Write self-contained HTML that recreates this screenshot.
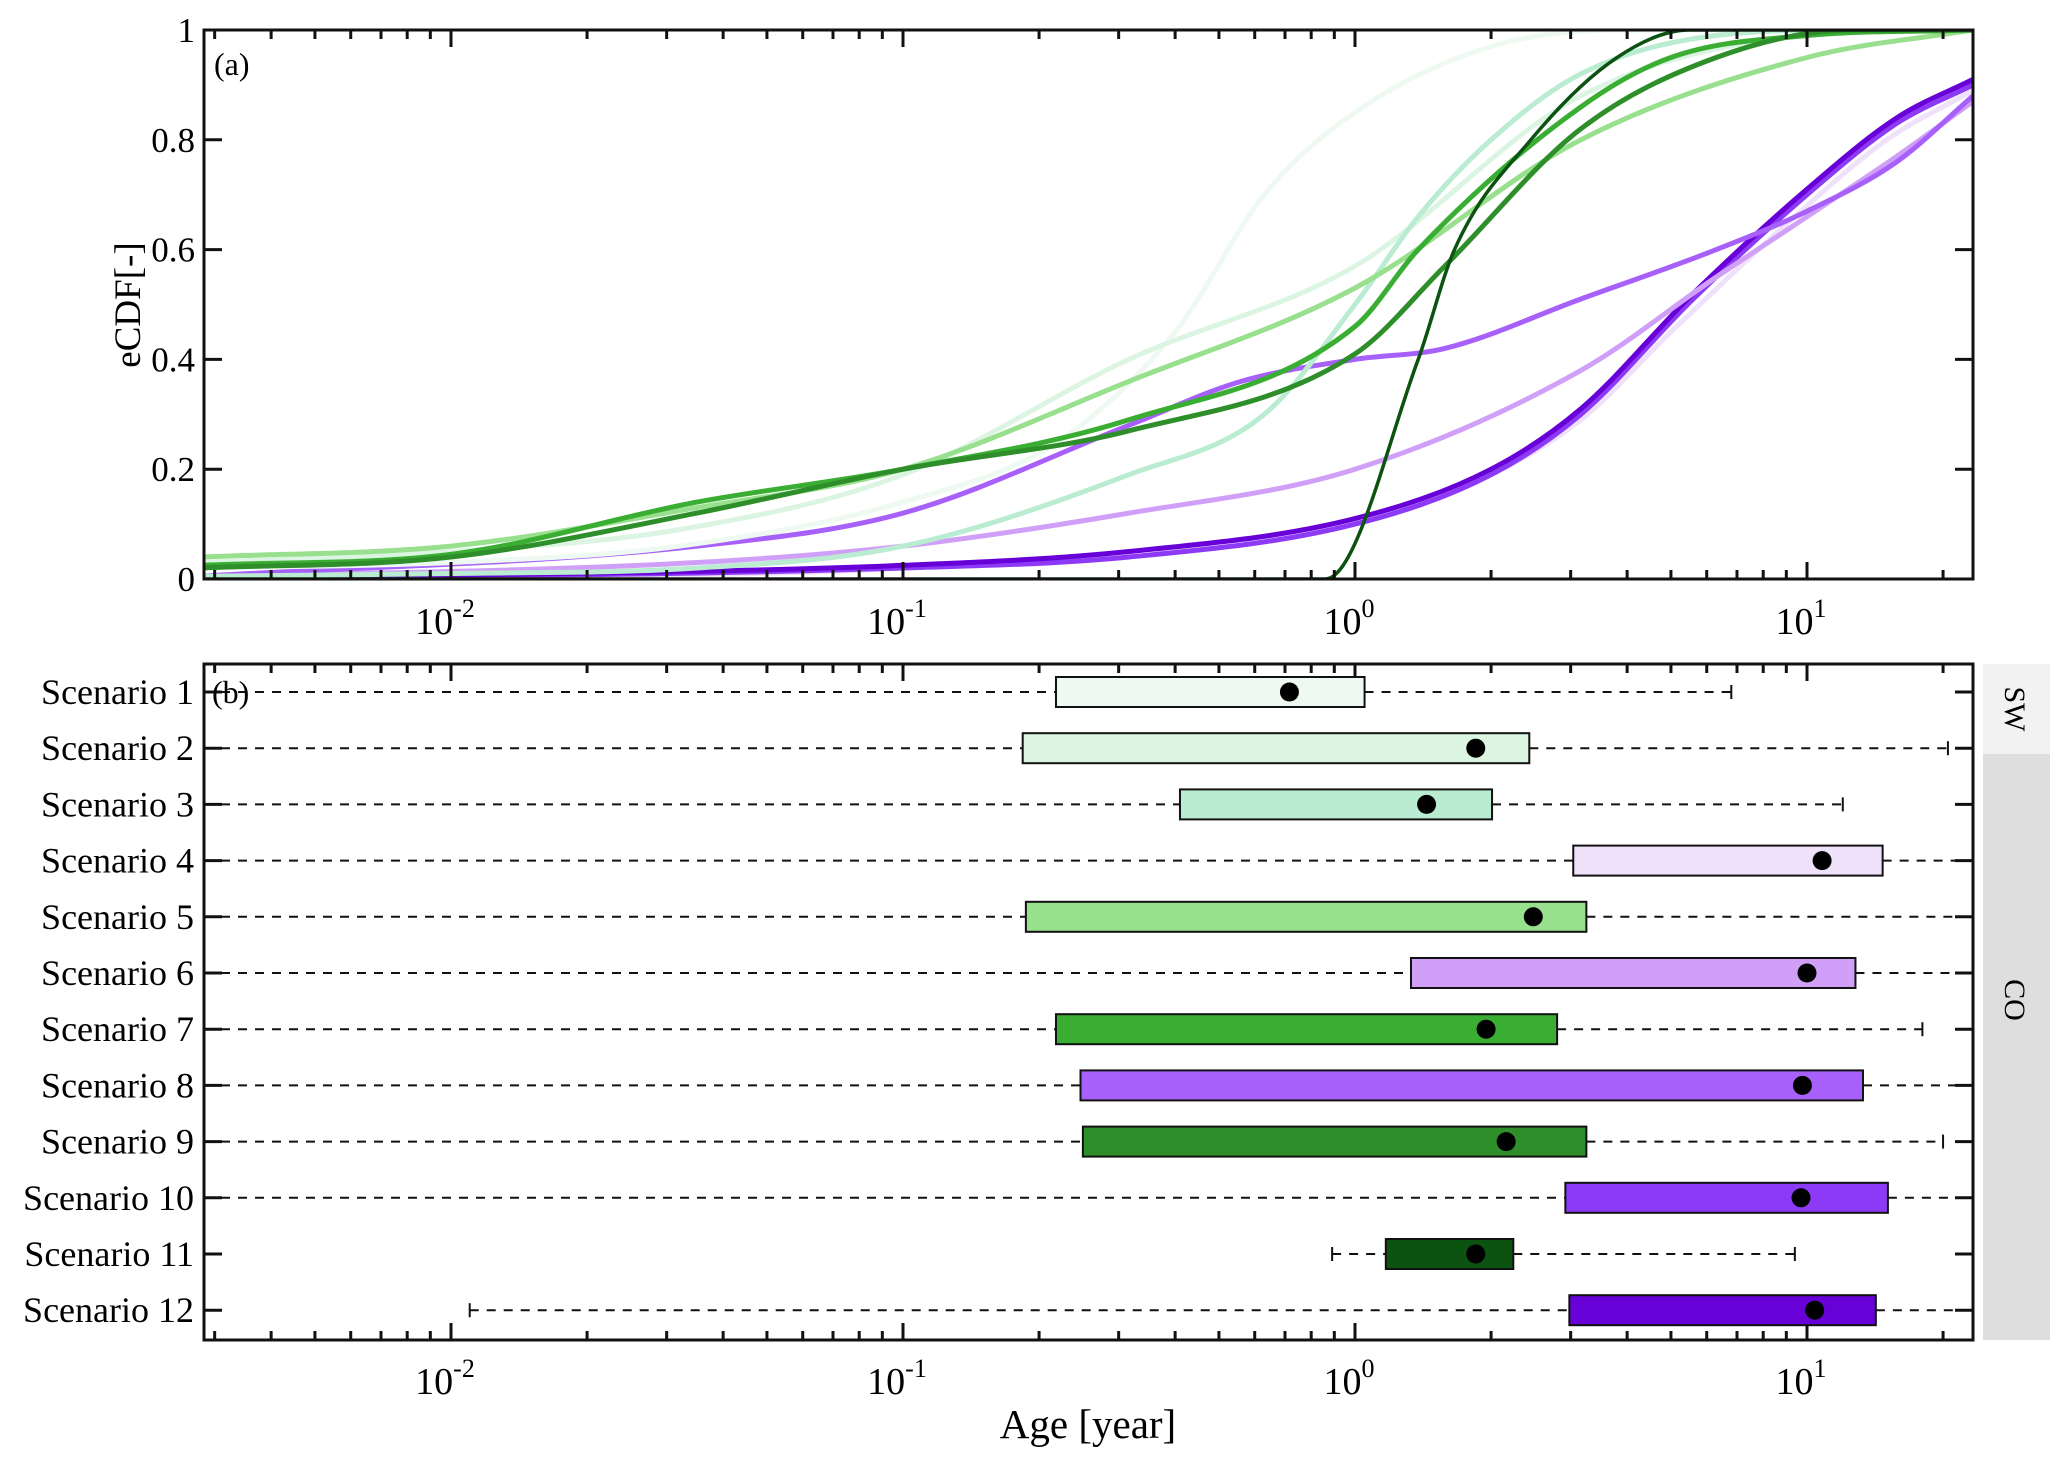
<!DOCTYPE html>
<html><head><meta charset="utf-8"><style>
html,body{margin:0;padding:0;background:#fff;}
svg{display:block;font-family:"Liberation Serif",serif;}
</style></head><body>
<svg id="fig" width="2067" height="1461" viewBox="0 0 2067 1461" xmlns="http://www.w3.org/2000/svg">
<defs>
<clipPath id="clipA"><rect x="204" y="30" width="1769" height="549"/></clipPath>
<clipPath id="clipB"><rect x="204" y="664" width="1769" height="676"/></clipPath>
</defs>
<rect x="0" y="0" width="2067" height="1461" fill="#fff"/>
<g id="gA"></g>
<g id="gB"></g>
<rect x="1983" y="664" width="67" height="90" fill="#f2f2f2"/>
<rect x="1983" y="754" width="67" height="586" fill="#dedede"/>
<text x="0" y="0" transform="translate(2005,709) rotate(90)" text-anchor="middle" font-size="30">SW</text>
<text x="0" y="0" transform="translate(2005,1000) rotate(90)" text-anchor="middle" font-size="30">CO</text>
<text x="0" y="0" transform="translate(140,305) rotate(-90)" text-anchor="middle" font-size="37">eCDF[-]</text>
<text x="1088" y="1438" text-anchor="middle" font-size="41">Age [year]</text>
<text x="214" y="75" font-size="32">(a)</text>
<text x="212" y="703" font-size="32">(b)</text>
</svg>
<script>
// ---- data ----
const scenarioNames = ["Scenario 1","Scenario 2","Scenario 3","Scenario 4","Scenario 5","Scenario 6","Scenario 7","Scenario 8","Scenario 9","Scenario 10","Scenario 11","Scenario 12"];
const colors = ["#eef9f1","#dcf5e3","#b9ecd0","#f0e1fb","#98e08e","#d0a0f8","#3aae32","#a860fa","#2e8f2a","#8c3af5","#0c5211","#6800d8"];
const s1Age=[0.0028,0.01,0.032,0.1,0.22,0.4,0.63,1.0,2.0,4.0,23.3];
const s1Cdf=[0.02,0.03,0.06,0.14,0.25,0.45,0.7,0.85,0.97,1,1];
const s2Age=[0.0028,0.01,0.032,0.1,0.316,1,3.16,10,23.3];
const s2Cdf=[0.03,0.05,0.09,0.19,0.4,0.57,0.88,0.99,1];
const s3Age=[0.0028,0.01,0.035,0.1,0.316,0.63,1,1.38,2,3.16,6.3,12.6,23.3];
const s3Cdf=[0.005,0.01,0.02,0.06,0.19,0.3,0.5,0.66,0.8,0.92,0.99,1,1];
const s4Age=[0.0028,0.01,0.1,1,2,3.16,5,10,15,23.3];
const s4Cdf=[0,0.004,0.02,0.1,0.19,0.29,0.45,0.68,0.8,0.89];
const s5Age=[0.0028,0.01,0.035,0.1,0.316,1,3.16,10,23.3];
const s5Cdf=[0.04,0.06,0.13,0.2,0.36,0.53,0.8,0.95,1];
const s6Age=[0.0028,0.035,0.1,0.316,1,3.16,6.3,10,15.8,23.3];
const s6Cdf=[0.003,0.03,0.06,0.12,0.2,0.38,0.55,0.66,0.77,0.87];
const s7Age=[0.0028,0.01,0.035,0.1,0.316,1,1.38,3.16,5,10,23.3];
const s7Cdf=[0.025,0.045,0.14,0.2,0.29,0.46,0.6,0.86,0.95,0.99,1];
const s8Age=[0.0028,0.035,0.1,0.316,0.56,1,1.58,3.16,6.3,10,15.8,23.3];
const s8Cdf=[0.005,0.06,0.12,0.28,0.36,0.40,0.42,0.51,0.6,0.67,0.76,0.88];
const s9Age=[0.0028,0.01,0.035,0.1,0.316,1,1.58,3.16,6.3,12.6,23.3];
const s9Cdf=[0.02,0.04,0.12,0.2,0.27,0.41,0.57,0.82,0.95,1,1];
const s10Age=[0.0028,0.01,0.1,0.316,1,2,3.16,5.6,10,15.8,23.3];
const s10Cdf=[0.002,0.005,0.02,0.04,0.1,0.19,0.3,0.51,0.7,0.83,0.9];
const s11Age=[0.0028,0.86,1.38,1.66,2.45,3.8,5.5,23.3];
const s11Cdf=[0,0,0.4,0.6,0.8,0.95,1,1];
const s12Age=[0.0028,0.01,0.1,0.316,1,2,3.16,5.6,10,15.8,23.3];
const s12Cdf=[0.003,0.007,0.025,0.05,0.11,0.2,0.31,0.52,0.71,0.84,0.91];
const boxQ1=[0.218,0.184,0.41,3.04,0.187,1.33,0.218,0.247,0.25,2.92,1.17,2.98];
const boxQ3=[1.05,2.43,2.01,14.7,3.25,12.8,2.80,13.3,3.25,15.1,2.24,14.2];
const boxMean=[0.716,1.85,1.44,10.8,2.48,10.0,1.95,9.77,2.16,9.7,1.85,10.4];
const whiskLo=[0.001,0.001,0.001,0.001,0.001,0.001,0.001,0.001,0.001,0.001,0.89,0.011];
const whiskHi=[6.8,20.5,12.0,40,40,40,18.0,40,20.0,40,9.4,40];
const xTickLabels=["-2","-1","0","1"];
const yTickLabels=["0","0.2","0.4","0.6","0.8","1"];
const yTickValues=[0,0.2,0.4,0.6,0.8,1];
const curveAges=[s1Age,s2Age,s3Age,s4Age,s5Age,s6Age,s7Age,s8Age,s9Age,s10Age,s11Age,s12Age];
const curveCdfs=[s1Cdf,s2Cdf,s3Cdf,s4Cdf,s5Cdf,s6Cdf,s7Cdf,s8Cdf,s9Cdf,s10Cdf,s11Cdf,s12Cdf];

// ---- axes ----
const NS="http://www.w3.org/2000/svg";
const L=204,R=1973,AT=30,AB=579,BT=664,BB=1340;
const x0=1355,dec=452;
function xs(v){return x0+Math.log10(v)*dec;}
function ya(v){return AB-v*(AB-AT);}
function yb(i){return 692+i*56.2;}
function mk(tag,attrs,parent){const e=document.createElementNS(NS,tag);for(const k in attrs)e.setAttribute(k,attrs[k]);parent.appendChild(e);return e;}
const gA=document.getElementById('gA'),gB=document.getElementById('gB');

function monoPath(px,py){
  const n=px.length;const d=[],m=[];
  for(let i=0;i<n-1;i++){d.push((py[i+1]-py[i])/(px[i+1]-px[i]));}
  m[0]=d[0];m[n-1]=d[n-2];
  for(let i=1;i<n-1;i++){m[i]=(d[i-1]*d[i]<=0)?0:(d[i-1]+d[i])/2;}
  for(let i=0;i<n-1;i++){if(d[i]===0){m[i]=0;m[i+1]=0;continue;}const a=m[i]/d[i],b=m[i+1]/d[i],s=a*a+b*b;if(s>9){const t=3/Math.sqrt(s);m[i]=t*a*d[i];m[i+1]=t*b*d[i];}}
  let p="M"+px[0].toFixed(1)+","+py[0].toFixed(1);
  for(let i=0;i<n-1;i++){const h=(px[i+1]-px[i])/3;
    p+=" C"+(px[i]+h).toFixed(1)+","+(py[i]+m[i]*h).toFixed(1)+" "+(px[i+1]-h).toFixed(1)+","+(py[i+1]-m[i+1]*h).toFixed(1)+" "+px[i+1].toFixed(1)+","+py[i+1].toFixed(1);}
  return p;
}

const cg=mk('g',{'clip-path':'url(#clipA)'},gA);
const order=[3,9,11,5,7,0,1,2,4,6,8,10];
order.forEach(i=>{
  const px=curveAges[i].map(xs),py=curveCdfs[i].map(ya);
  const p=mk('path',{d:monoPath(px,py),fill:'none',stroke:colors[i],'stroke-width':i===10?3.5:5,'stroke-linejoin':'round'},cg);
  
  
});

function xTicks(g,top,bot,labelY){
  for(let e=-3;e<=1;e++){for(let k=1;k<=9;k++){const v=k*Math.pow(10,e);const x=xs(v);if(x<L+2||x>R-2)continue;
    const len=k===1?17:9;
    mk('line',{x1:x,y1:bot,x2:x,y2:bot-len,stroke:'#111','stroke-width':3},g);
    mk('line',{x1:x,y1:top,x2:x,y2:top+len,stroke:'#111','stroke-width':3},g);}}
  xTickLabels.forEach(s=>{const x=xs(Math.pow(10,+s));
    const t=mk('text',{x:x-6,y:labelY,'text-anchor':'middle','font-size':38},g);
    
    
    t.textContent='10';
    const sup=mk('tspan',{dy:-17,'font-size':26},t);sup.textContent=s;});
}
xTicks(gA,AT,AB,634);
xTicks(gB,BT,BB,1394);

yTickValues.forEach((v,i)=>{const y=ya(v);
  mk('line',{x1:L,y1:y,x2:L+18,y2:y,stroke:'#111','stroke-width':3},gA);
  mk('line',{x1:R,y1:y,x2:R-18,y2:y,stroke:'#111','stroke-width':3},gA);
  const t=mk('text',{x:195,y:y+12,'text-anchor':'end','font-size':35},gA);
  
  
  t.textContent=yTickLabels[i];});
mk('rect',{x:L,y:AT,width:R-L,height:AB-AT,fill:'none',stroke:'#111','stroke-width':3},gA);

const bg=mk('g',{'clip-path':'url(#clipB)'},gB);
scenarioNames.forEach((name,i)=>{
  const y=yb(i),h=15;
  const lo=Math.max(xs(whiskLo[i]),L),hi=Math.min(xs(whiskHi[i]),R);
  const w1=mk('line',{x1:lo,y1:y,x2:xs(boxQ1[i]),y2:y,stroke:'#111','stroke-width':2,'stroke-dasharray':'9,8'},bg);
  
  
  const w2=mk('line',{x1:xs(boxQ3[i]),y1:y,x2:hi,y2:y,stroke:'#111','stroke-width':2,'stroke-dasharray':'9,8'},bg);
  
  
  if(xs(whiskLo[i])>L) mk('line',{x1:lo,y1:y-7,x2:lo,y2:y+7,stroke:'#111','stroke-width':2},bg);
  if(xs(whiskHi[i])<R) mk('line',{x1:hi,y1:y-7,x2:hi,y2:y+7,stroke:'#111','stroke-width':2},bg);
  const b=mk('rect',{x:xs(boxQ1[i]),y:y-h,width:xs(boxQ3[i])-xs(boxQ1[i]),height:2*h,fill:colors[i],stroke:'#111','stroke-width':2},bg);
  
  
  const c=mk('circle',{cx:xs(boxMean[i]),cy:y,r:9.5,fill:'#000'},bg);
  
  
  mk('line',{x1:L,y1:y,x2:L+18,y2:y,stroke:'#111','stroke-width':3},gB);
  mk('line',{x1:R,y1:y,x2:R-18,y2:y,stroke:'#111','stroke-width':3},gB);
  const t=mk('text',{x:194,y:y+12,'text-anchor':'end','font-size':36},gB);
  
  
  t.textContent=name;
});
mk('rect',{x:L,y:BT,width:R-L,height:BB-BT,fill:'none',stroke:'#111','stroke-width':3},gB);
</script>
</body></html>
